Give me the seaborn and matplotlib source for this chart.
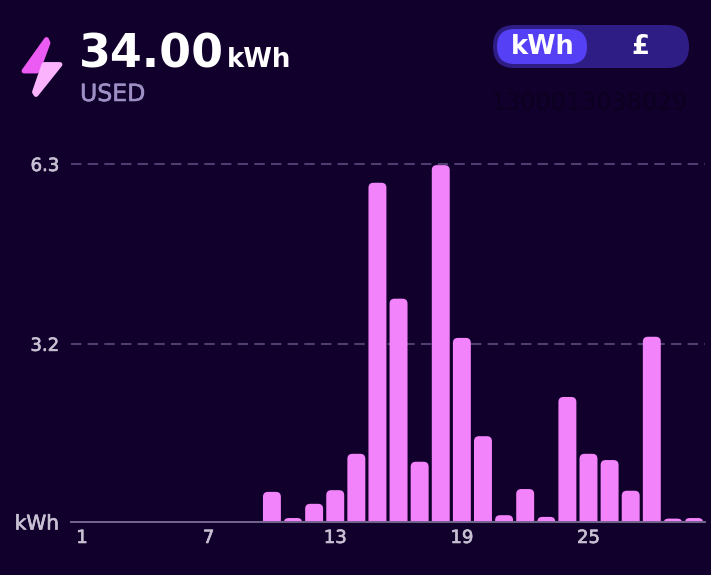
import matplotlib
matplotlib.use("Agg")
import matplotlib.pyplot as plt
import matplotlib.patheffects as pe
from matplotlib.patches import FancyBboxPatch, PathPatch, Polygon
from matplotlib.path import Path
import seaborn as sns
import pandas as pd

days = list(range(1, 31))
usage = [0, 0, 0, 0, 0, 0, 0, 0, 0, 0.53, 0.07, 0.32, 0.56, 1.20, 5.97, 3.93, 1.06, 6.28,
         3.24, 1.51, 0.12, 0.58, 0.09, 2.20, 1.20, 1.09, 0.55, 3.26, 0.06, 0.07]
grid_values = [3.135, 6.3]
grid_labels = ["3.2", "6.3"]
x_ticks = [1, 7, 13, 19, 25]
total_value = "34.00"
total_unit = "kWh"
total_label = "USED"
meter_id = "1300013038029"
toggle_options = ["kWh", "£"]

BG = "#12002c"
BAR = "#f383fb"
TICK = "#c6c0d2"
W, H = 711, 575

sns.set_theme(style="dark")
plt.rcParams["font.family"] = ["DejaVu Sans"]

fig = plt.figure(figsize=(W / 100, H / 100), dpi=100, facecolor=BG)
ax = fig.add_axes([71 / W, (H - 522) / H, 634 / W, 358 / H], facecolor="none")

df = pd.DataFrame({"day": days, "usage": usage})
sns.barplot(data=df, x="day", y="usage", native_scale=True, width=0.85, color=BAR,
            saturation=1, ax=ax, zorder=3)
ax.set_xlim(0.48, 30.52)
ax.set_ylim(0, 6.3)
ax.set_xlabel("")
ax.set_ylabel("")

# round the top corners of each bar
sx = 634 / (30.52 - 0.48)
sy = 358 / 6.3
for bar in list(ax.patches):
    x0, w, h = bar.get_x(), bar.get_width(), bar.get_height()
    bar.remove()
    if h <= 0:
        continue
    rx = 5 / sx
    ry = min(5 / sy, h)
    verts = [(x0, 0), (x0, h - ry), (x0, h), (x0 + rx, h), (x0 + w - rx, h),
             (x0 + w, h), (x0 + w, h - ry), (x0 + w, 0), (x0, 0)]
    codes = [Path.MOVETO, Path.LINETO, Path.CURVE3, Path.CURVE3, Path.LINETO,
             Path.CURVE3, Path.CURVE3, Path.LINETO, Path.CLOSEPOLY]
    ax.add_patch(PathPatch(Path(verts, codes), facecolor=BAR, edgecolor="none", zorder=3))

for s in ["top", "left", "right"]:
    ax.spines[s].set_visible(False)
ax.spines["bottom"].set_color("#75668f")
ax.spines["bottom"].set_linewidth(1.4)
ax.spines["bottom"].set_zorder(4)

for v in grid_values:
    ax.axhline(v, color="#4f3d70", lw=1.5, dashes=(5, 3), zorder=1, clip_on=False)

ax.set_xticks(x_ticks)
ax.set_xticklabels([str(t) for t in x_ticks], fontsize=13, color=TICK)
ax.set_yticks(grid_values + [0])
ax.set_yticklabels(grid_labels + [total_unit], fontsize=13, color=TICK)
ax.tick_params(axis="both", length=0)
ax.tick_params(axis="x", pad=5)
ax.tick_params(axis="y", pad=8.5)
ax.grid(False)
stroke = [pe.withStroke(linewidth=0.5, foreground=TICK)]
for lab in ax.get_xticklabels() + ax.get_yticklabels():
    lab.set_path_effects(stroke)
ax.get_yticklabels()[-1].set_fontsize(14.5)

# header overlay in pixel coordinates
ov = fig.add_axes([0, 0, 1, 1], facecolor="none")
ov.set_xlim(0, W)
ov.set_ylim(H, 0)
ov.axis("off")

ov.add_patch(Polygon([(46.5, 39.5), (48, 43), (41, 62), (37, 71), (24, 71)], closed=True,
                     facecolor="#ec5cf4", edgecolor="#ec5cf4", lw=3.5, joinstyle="round"))
ov.add_patch(Polygon([(44, 64.5), (60, 64.5), (36, 94.5), (34.5, 92)], closed=True,
                     facecolor="#fbb3fd", edgecolor="#fbb3fd", lw=3.5, joinstyle="round"))

ov.text(79, 67, total_value, fontsize=33, fontweight="bold", color="white", va="baseline", ha="left")
ov.text(227, 67, total_unit, fontsize=18.7, fontweight="bold", color="white", va="baseline", ha="left")
ov.text(80, 101, total_label, fontsize=17, color="#9d90c4", va="baseline", ha="left",
        path_effects=[pe.withStroke(linewidth=0.4, foreground="#9d90c4")])

ov.add_patch(FancyBboxPatch((493, 25), 196, 43, boxstyle="round,pad=0,rounding_size=21.5",
                            facecolor="#2f1d86", edgecolor="none"))
ov.add_patch(FancyBboxPatch((497, 29), 90, 35, boxstyle="round,pad=0,rounding_size=17.5",
                            facecolor="#5540f5", edgecolor="none"))
ov.text(543, 47, toggle_options[0], fontsize=18.5, fontweight="bold", color="white", ha="center", va="center")
ov.text(640, 47, toggle_options[1], fontsize=18.5, fontweight="bold", color="white", ha="center", va="center")
ov.text(589, 103, meter_id, fontsize=17.2, color="#0c0020", ha="center", va="center")

fig.savefig("out.png", dpi=100, facecolor=BG)
